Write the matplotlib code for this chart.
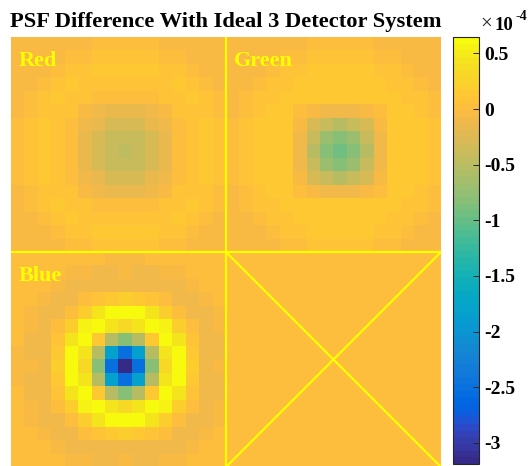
import numpy as np
import matplotlib
matplotlib.use("Agg")
import matplotlib.pyplot as plt
from matplotlib.colors import ListedColormap

# ---------------- data (values in units of 1e-5) ----------------
red_panel = [
    [-0.5,-0.6,-0.6,-0.5,-0.4,-0.2,-0.1, 0.0, 0.0, 0.0,-0.1,-0.2,-0.4,-0.5,-0.6,-0.6],
    [-0.6,-0.6,-0.5,-0.3, 0.0, 0.3, 0.6, 0.8, 0.8, 0.8, 0.6, 0.3, 0.0,-0.3,-0.5,-0.6],
    [-0.6,-0.5,-0.2, 0.2, 0.6, 1.0, 1.2, 1.2, 1.2, 1.2, 1.2, 1.0, 0.6, 0.2,-0.2,-0.5],
    [-0.5,-0.3, 0.2, 0.8, 1.1, 1.0, 0.8, 0.7, 0.7, 0.7, 0.8, 1.0, 1.1, 0.8, 0.2,-0.3],
    [-0.4, 0.0, 0.6, 1.1, 0.8, 0.7, 0.2, 0.0, 0.0, 0.0, 0.2, 0.7, 0.8, 1.1, 0.6, 0.0],
    [-0.2, 0.3, 1.0, 1.0, 0.7,-0.4,-0.8,-1.4,-1.5,-1.4,-0.8,-0.4, 0.7, 1.0, 1.0, 0.3],
    [-0.1, 0.6, 1.2, 0.8, 0.2,-0.8,-1.7,-2.6,-2.7,-2.6,-1.7,-0.8, 0.2, 0.8, 1.2, 0.6],
    [ 0.0, 0.8, 1.2, 0.7, 0.0,-1.4,-2.6,-3.9,-4.1,-3.9,-2.6,-1.4, 0.0, 0.7, 1.2, 0.8],
    [ 0.0, 0.8, 1.2, 0.7, 0.0,-1.5,-2.7,-4.1,-4.4,-4.1,-2.7,-1.5, 0.0, 0.7, 1.2, 0.8],
    [ 0.0, 0.8, 1.2, 0.7, 0.0,-1.4,-2.6,-3.9,-4.1,-3.9,-2.6,-1.4, 0.0, 0.7, 1.2, 0.8],
    [-0.1, 0.6, 1.2, 0.8, 0.2,-0.8,-1.7,-2.6,-2.7,-2.6,-1.7,-0.8, 0.2, 0.8, 1.2, 0.6],
    [-0.2, 0.3, 1.0, 1.0, 0.7,-0.4,-0.8,-1.4,-1.5,-1.4,-0.8,-0.4, 0.7, 1.0, 1.0, 0.3],
    [-0.4, 0.0, 0.6, 1.1, 0.8, 0.7, 0.2, 0.0, 0.0, 0.0, 0.2, 0.7, 0.8, 1.1, 0.6, 0.0],
    [-0.5,-0.3, 0.2, 0.8, 1.1, 1.0, 0.8, 0.7, 0.7, 0.7, 0.8, 1.0, 1.1, 0.8, 0.2,-0.3],
    [-0.6,-0.5,-0.2, 0.2, 0.6, 1.0, 1.2, 1.2, 1.2, 1.2, 1.2, 1.0, 0.6, 0.2,-0.2,-0.5],
    [-0.6,-0.6,-0.5,-0.3, 0.0, 0.3, 0.6, 0.8, 0.8, 0.8, 0.6, 0.3, 0.0,-0.3,-0.5,-0.6],
]

green_panel = [
    [-0.5,-0.5,-0.5,-0.4,-0.3,-0.2,-0.1, 0.0, 0.1, 0.0,-0.1,-0.2,-0.3,-0.4,-0.5,-0.5],
    [-0.5,-0.5,-0.4,-0.3, 0.0, 0.3, 0.5, 0.7, 0.7, 0.7, 0.5, 0.3, 0.0,-0.3,-0.4,-0.5],
    [-0.5,-0.4,-0.2, 0.2, 0.6, 0.9, 1.1, 1.2, 1.2, 1.2, 1.1, 0.9, 0.6, 0.2,-0.2,-0.4],
    [-0.4,-0.3, 0.2, 0.7, 1.0, 1.3, 1.5, 1.6, 1.6, 1.6, 1.5, 1.3, 1.0, 0.7, 0.2,-0.3],
    [-0.3, 0.0, 0.6, 1.0, 1.3, 1.6, 1.5, 1.4, 1.5, 1.4, 1.5, 1.6, 1.3, 1.0, 0.6, 0.0],
    [-0.2, 0.3, 0.9, 1.3, 1.6, 0.3,-0.6,-1.3,-1.2,-1.3,-0.6, 0.3, 1.6, 1.3, 0.9, 0.3],
    [-0.1, 0.5, 1.1, 1.5, 1.5,-0.6,-2.6,-3.9,-5.4,-3.9,-2.6,-0.6, 1.5, 1.5, 1.1, 0.5],
    [ 0.0, 0.7, 1.2, 1.6, 1.4,-1.3,-3.9,-6.9,-8.5,-6.9,-3.9,-1.3, 1.4, 1.6, 1.2, 0.7],
    [ 0.1, 0.7, 1.2, 1.6, 1.5,-1.2,-5.4,-8.5,-9.4,-8.5,-5.4,-1.2, 1.5, 1.6, 1.2, 0.7],
    [ 0.0, 0.7, 1.2, 1.6, 1.4,-1.3,-3.9,-6.9,-8.5,-6.9,-3.9,-1.3, 1.4, 1.6, 1.2, 0.7],
    [-0.1, 0.5, 1.1, 1.5, 1.5,-0.6,-2.6,-3.9,-5.4,-3.9,-2.6,-0.6, 1.5, 1.5, 1.1, 0.5],
    [-0.2, 0.3, 0.9, 1.3, 1.6, 0.3,-0.6,-1.3,-1.2,-1.3,-0.6, 0.3, 1.6, 1.3, 0.9, 0.3],
    [-0.3, 0.0, 0.6, 1.0, 1.3, 1.6, 1.5, 1.4, 1.5, 1.4, 1.5, 1.6, 1.3, 1.0, 0.6, 0.0],
    [-0.4,-0.3, 0.2, 0.7, 1.0, 1.3, 1.5, 1.6, 1.6, 1.6, 1.5, 1.3, 1.0, 0.7, 0.2,-0.3],
    [-0.5,-0.4,-0.2, 0.2, 0.6, 0.9, 1.1, 1.2, 1.2, 1.2, 1.1, 0.9, 0.6, 0.2,-0.2,-0.4],
    [-0.5,-0.5,-0.4,-0.3, 0.0, 0.3, 0.5, 0.7, 0.7, 0.7, 0.5, 0.3, 0.0,-0.3,-0.4,-0.5],
]

blue_panel = [
    [ 0.0, 0.1, 0.2, 0.3, 0.4, 0.2,-0.1,-0.2,-0.2,-0.2,-0.1, 0.2, 0.4, 0.3, 0.2, 0.1],
    [ 0.1, 0.3, 0.4, 0.3,-0.2,-0.6,-0.8,-0.9,-0.7,-0.9,-0.8,-0.6,-0.2, 0.3, 0.4, 0.3],
    [ 0.2, 0.4, 0.2,-0.5,-0.8,-1.0,-1.0,-1.0,-1.0,-1.0,-1.0,-1.0,-0.8,-0.5, 0.2, 0.4],
    [ 0.3, 0.3,-0.5,-0.9,-1.0, 0.2, 0.7, 1.2, 1.8, 1.2, 0.7, 0.2,-1.0,-0.9,-0.5, 0.3],
    [ 0.4,-0.2,-0.8,-1.0, 0.2, 1.8, 4.4, 6.2, 6.47, 6.2, 4.4, 1.8, 0.2,-1.0,-0.8,-0.2],
    [ 0.2,-0.6,-1.0, 0.2, 1.8, 5.8, 6.0, 4.4, 3.1, 4.4, 6.0, 5.8, 1.8, 0.2,-1.0,-0.6],
    [-0.1,-0.8,-1.0, 0.7, 4.4, 6.0, 1.5,-5.0,-8.0,-5.0, 1.5, 6.0, 4.4, 0.7,-1.0,-0.8],
    [-0.2,-0.9,-1.0, 1.2, 6.2, 4.4,-5.0,-18.5,-25.0,-18.5,-5.0, 4.4, 6.2, 1.2,-1.0,-0.9],
    [-0.2,-0.7,-1.0, 1.8, 6.47, 3.1,-8.0,-25.0,-31.9,-25.0,-8.0, 3.1, 6.47, 1.8,-1.0,-0.7],
    [-0.2,-0.9,-1.0, 1.2, 6.2, 4.4,-5.0,-18.5,-25.0,-18.5,-5.0, 4.4, 6.2, 1.2,-1.0,-0.9],
    [-0.1,-0.8,-1.0, 0.7, 4.4, 6.0, 1.5,-5.0,-8.0,-5.0, 1.5, 6.0, 4.4, 0.7,-1.0,-0.8],
    [ 0.2,-0.6,-1.0, 0.2, 1.8, 5.8, 6.0, 4.4, 3.1, 4.4, 6.0, 5.8, 1.8, 0.2,-1.0,-0.6],
    [ 0.4,-0.2,-0.8,-1.0, 0.2, 1.8, 4.4, 6.2, 6.47, 6.2, 4.4, 1.8, 0.2,-1.0,-0.8,-0.2],
    [ 0.3, 0.3,-0.5,-0.9,-1.0, 0.2, 0.7, 1.2, 1.8, 1.2, 0.7, 0.2,-1.0,-0.9,-0.5, 0.3],
    [ 0.2, 0.4, 0.2,-0.5,-0.8,-1.0,-1.0,-1.0,-1.0,-1.0,-1.0,-1.0,-0.8,-0.5, 0.2, 0.4],
    [ 0.1, 0.3, 0.4, 0.3,-0.2,-0.6,-0.8,-0.9,-0.7,-0.9,-0.8,-0.6,-0.2, 0.3, 0.4, 0.3],
]

empty_panel_value = 0.3          # unused 4th quadrant (1e-5 units)
panel_labels = ["Red", "Green", "Blue"]
value_unit = 1e-5
clim = [-3.19e-4, 0.647e-4]
cbar_ticks = [-3, -2.5, -2, -1.5, -1, -0.5, 0, 0.5]
cbar_ticklabels = ["-3", "-2.5", "-2", "-1.5", "-1", "-0.5", "0", "0.5"]
title_text = "PSF Difference With Ideal 3 Detector System"

# ---------------- parula colormap ----------------
parula_data = [
 [0.2081,0.1663,0.5292],[0.2116,0.1898,0.5777],[0.2123,0.2138,0.6270],[0.2081,0.2386,0.6771],
 [0.1959,0.2645,0.7279],[0.1707,0.2919,0.7792],[0.1253,0.3242,0.8303],[0.0591,0.3598,0.8683],
 [0.0117,0.3875,0.8820],[0.0060,0.4086,0.8828],[0.0165,0.4266,0.8786],[0.0329,0.4430,0.8720],
 [0.0498,0.4586,0.8641],[0.0629,0.4737,0.8554],[0.0723,0.4887,0.8467],[0.0779,0.5040,0.8384],
 [0.0793,0.5200,0.8312],[0.0749,0.5375,0.8263],[0.0641,0.5570,0.8240],[0.0488,0.5772,0.8228],
 [0.0343,0.5966,0.8199],[0.0265,0.6137,0.8135],[0.0239,0.6287,0.8038],[0.0231,0.6418,0.7913],
 [0.0228,0.6535,0.7768],[0.0267,0.6642,0.7607],[0.0384,0.6743,0.7436],[0.0590,0.6838,0.7254],
 [0.0843,0.6928,0.7062],[0.1133,0.7015,0.6859],[0.1453,0.7098,0.6646],[0.1801,0.7177,0.6424],
 [0.2178,0.7250,0.6193],[0.2586,0.7317,0.5954],[0.3022,0.7376,0.5712],[0.3482,0.7424,0.5473],
 [0.3953,0.7459,0.5244],[0.4420,0.7481,0.5033],[0.4871,0.7491,0.4840],[0.5300,0.7491,0.4661],
 [0.5709,0.7485,0.4494],[0.6099,0.7473,0.4337],[0.6473,0.7456,0.4188],[0.6834,0.7435,0.4044],
 [0.7184,0.7411,0.3905],[0.7525,0.7384,0.3768],[0.7858,0.7356,0.3633],[0.8185,0.7327,0.3498],
 [0.8507,0.7299,0.3360],[0.8824,0.7274,0.3217],[0.9139,0.7258,0.3063],[0.9450,0.7261,0.2886],
 [0.9739,0.7314,0.2666],[0.9938,0.7455,0.2403],[0.9990,0.7653,0.2164],[0.9955,0.7861,0.1967],
 [0.9880,0.8066,0.1794],[0.9789,0.8271,0.1633],[0.9697,0.8481,0.1475],[0.9626,0.8705,0.1309],
 [0.9589,0.8949,0.1132],[0.9598,0.9218,0.0948],[0.9661,0.9514,0.0755],[0.9763,0.9831,0.0538]]
parula = ListedColormap(parula_data, name="parula")

# ---------------- figure ----------------
W, H = 529, 466
fig = plt.figure(figsize=(W / 100, H / 100), dpi=100)
serif = ["Liberation Serif", "DejaVu Serif"]

n = len(red_panel)
empty_panel = np.full((n, n), empty_panel_value)
mosaic = np.block([[np.array(red_panel), np.array(green_panel)],
                   [np.array(blue_panel), empty_panel]]) * value_unit

img_l, img_r, img_t, img_b = 11, 441, 37, 467
ax = fig.add_axes([img_l / W, 1 - img_b / H, (img_r - img_l) / W, (img_b - img_t) / H])
im = ax.imshow(mosaic, cmap=parula, vmin=clim[0], vmax=clim[1],
               interpolation="nearest", aspect="auto")
ax.set_axis_off()

N = 2 * n
mid = n - 0.5
lo, hi = -0.5, N - 0.5
ylw = dict(color=(1, 1, 0), lw=1.6, clip_on=False, solid_capstyle="butt")
ax.plot([mid, mid], [lo, hi], **ylw)
ax.plot([lo, hi], [mid, mid], **ylw)
ax.plot([mid, hi], [mid, hi], **ylw)
ax.plot([hi, mid], [mid, hi], **ylw)

corners = [(lo, lo), (mid, lo), (lo, mid)]
for lab, (cx, cy) in zip(panel_labels, corners):
    ax.annotate(lab, xy=(cx, cy), xycoords="data", xytext=(5.5, -21),
                textcoords="offset points", ha="left", va="baseline",
                color=(1, 1, 0), fontsize=16, fontweight="bold", family=serif)

fig.text(10 / W, 1 - 27 / H, title_text, ha="left", va="baseline",
         fontsize=16.2, fontweight="bold", family=serif)

# colorbar
cb_l, cb_r, cb_t, cb_b = 453, 479, 37, 464
cax = fig.add_axes([cb_l / W, 1 - cb_b / H, (cb_r - cb_l) / W, (cb_b - cb_t) / H])
cb = fig.colorbar(im, cax=cax)
cb.outline.set_edgecolor("#262626")
cb.outline.set_linewidth(0.8)
cb.set_ticks([t * 1e-4 for t in cbar_ticks])
cb.set_ticklabels(cbar_ticklabels)
cax.yaxis.set_ticks_position("right")
cax.tick_params(axis="y", direction="in", length=4.5, width=0.7, color="#262626",
                pad=3.5, labelsize=14)
for t in cax.get_yticklabels():
    t.set_fontweight("bold")
    t.set_family(serif)
cax.yaxis.get_offset_text().set_visible(False)

fig.text(480 / W, 1 - 29 / H, "×", ha="left", va="baseline", fontsize=15,
         family=serif, color="#262626")
fig.text(495 / W, 1 - 29.5 / H, "10", ha="left", va="baseline", fontsize=13.5,
         fontweight="bold", family=serif)
fig.text(515 / W, 1 - 19.5 / H, "-4", ha="left", va="baseline", fontsize=10,
         fontweight="bold", family=serif)

fig.savefig("out.png", dpi=100)
